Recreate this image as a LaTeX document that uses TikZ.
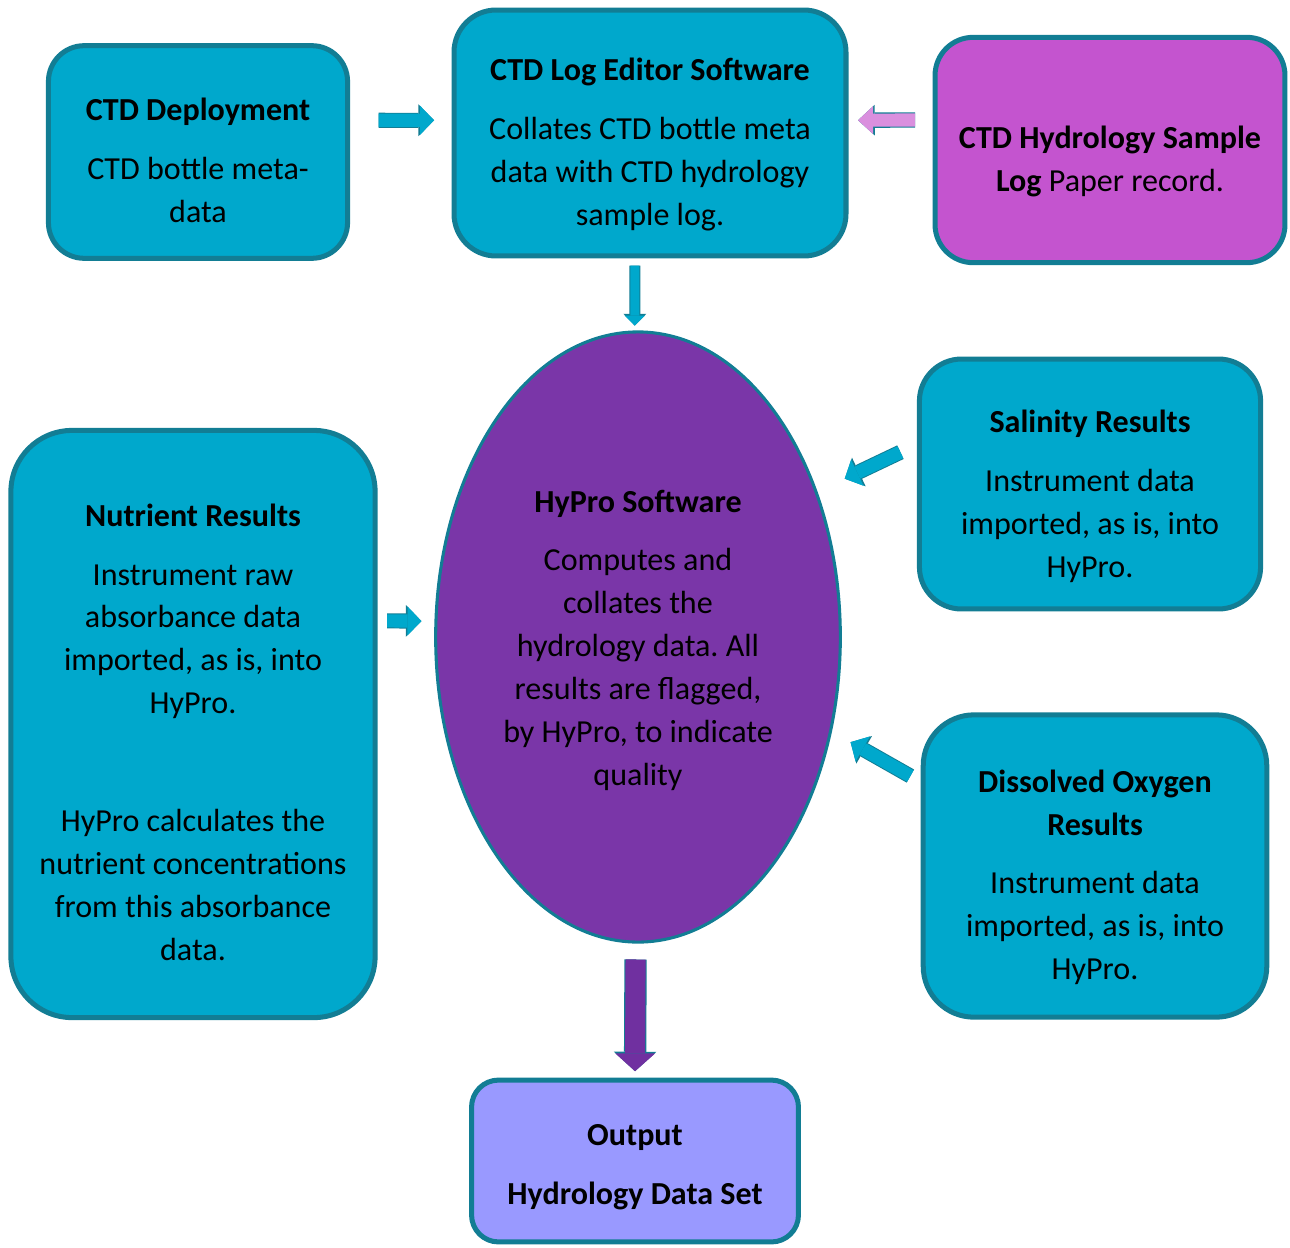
\documentclass[tikz,border=0pt]{standalone}
\usepackage{fontspec}
\setmainfont{Carlito}
\usepackage{tikz}
\usetikzlibrary{shapes,calc}
\usetikzlibrary{arrows.meta,positioning}
\definecolor{boxcyan}{RGB}{0,168,204}
\definecolor{edgeteal}{RGB}{18,125,148}
\definecolor{logmagenta}{RGB}{196,84,207}
\definecolor{hubpurple}{RGB}{122,54,168}
\definecolor{outlilac}{RGB}{153,153,255}
\definecolor{pinkarrow}{RGB}{218,143,222}
\definecolor{darkpurple}{RGB}{112,48,160}
\frenchspacing

\begin{document}
\begin{tikzpicture}[x=0.0126cm, y=-0.0126cm,
    font=\fontsize{11.5}{15.4}\selectfont,
    box/.style={rectangle, draw=edgeteal, line width=1.8pt, fill=boxcyan, inner sep=0pt, align=center},
    hub/.style={ellipse, draw=edgeteal, line width=1.1pt, fill=hubpurple, inner sep=0pt, align=center},
    flowsmall/.style={draw=boxcyan, line width=4.7pt, -{Triangle[length=5pt,width=10.4pt,line width=0pt]},
        preaction={draw=edgeteal, line width=5.4pt, -{Triangle[length=5.6pt,width=11.4pt,line width=0pt]}}},
    flowthin/.style={draw=boxcyan, line width=3.2pt, -{Triangle[length=3.6pt,width=7.2pt,line width=0pt]},
        preaction={draw=edgeteal, line width=3.9pt, -{Triangle[length=4.2pt,width=8.2pt,line width=0pt]}}},
    flowpink/.style={draw=pinkarrow, line width=4.7pt, -{Triangle[length=5.4pt,width=10pt,line width=0pt]},
        preaction={draw=edgeteal, line width=5.5pt, -{Triangle[length=6pt,width=11pt,line width=0pt]}}},
    flowbig/.style={draw=darkpurple, line width=7.2pt, -{Triangle[length=6.4pt,width=14.3pt,line width=0pt]},
        preaction={draw=edgeteal, line width=8pt, -{Triangle[length=7pt,width=15.3pt,line width=0pt]}}}]
    \def\drop#1{\rule{0pt}{#1}}
    \useasboundingbox (0,0) rectangle (1290,1247);
    %Boxes
    \node[box, minimum width=3.77cm, minimum height=2.68cm, rounded corners=0.45cm] (deploy) at (198,152)
        {\drop{14pt}\textbf{CTD Deployment}\\[5.7pt] CTD bottle meta-\\data};
    \node[box, minimum width=4.94cm, minimum height=3.10cm, rounded corners=0.53cm] (logedit) at (650,133)
        {\drop{16.2pt}\textbf{CTD Log Editor Software}\\[5.7pt] Collates CTD bottle meta\\data with CTD hydrology\\sample log.};
    \node[box, fill=logmagenta, minimum width=4.41cm, minimum height=2.84cm, rounded corners=0.48cm] (samplelog) at (1110,150)
        {\drop{16.2pt}\textbf{CTD Hydrology Sample}\\\textbf{Log} Paper record.};
    \node[box, minimum width=4.30cm, minimum height=3.15cm, rounded corners=0.53cm] (salinity) at (1090,484)
        {\drop{16.9pt}\textbf{Salinity Results}\\[5.7pt] Instrument data\\imported, as is, into\\HyPro.};
    \node[box, minimum width=4.59cm, minimum height=7.40cm, rounded corners=0.77cm] (nutrient) at (193,724)
        {\drop{14pt}\textbf{Nutrient Results}\\[5.7pt] Instrument raw\\absorbance data\\imported, as is, into\\HyPro.\\[26.9pt]
         HyPro calculates the\\nutrient concentrations\\from this absorbance\\data.};
    \node[box, minimum width=4.33cm, minimum height=3.81cm, rounded corners=0.64cm] (oxygen) at (1095,866)
        {\drop{16.2pt}\textbf{Dissolved Oxygen}\\\textbf{Results}\\[5.7pt] Instrument data\\imported, as is, into\\HyPro.};
    \node[box, fill=outlilac, minimum width=4.12cm, minimum height=2.04cm, rounded corners=0.34cm] (output) at (635,1161)
        {\drop{11.9pt}\textbf{Output}\\[5.7pt]\textbf{Hydrology Data Set}};
    %Hub
    \node[hub, minimum width=5.10cm, minimum height=7.69cm] (hypro) at (638,637)
        {\drop{10.4pt}\textbf{HyPro Software}\\[5.7pt] Computes and\\collates the\\hydrology data. All\\results are flagged,\\by HyPro, to indicate\\quality};
    %Arrows
    \draw[flowsmall, shorten <=0.36cm, shorten >=0.22cm] ([yshift=0.40cm]deploy.east) -- ([yshift=0.16cm]logedit.west);
    \draw[flowpink, shorten <=0.22cm, shorten >=0.12cm] ([yshift=0.38cm]samplelog.west) -- ([yshift=0.16cm]logedit.east);
    \draw[flowthin, shorten <=0.09cm, shorten >=0.06cm] ([xshift=-0.19cm]logedit.south) -- ([xshift=-0.04cm]hypro.north);
    \draw[flowsmall, shorten <=0.23cm, shorten >=0.38cm] ([yshift=0.50cm]salinity.west) -- (hypro.39);
    \draw[flowsmall, shorten <=0.12cm, shorten >=0.16cm] ([yshift=1.30cm]nutrient.east) -- ([yshift=0.20cm]hypro.west);
    \draw[flowsmall, shorten <=0.15cm, shorten >=0.27cm] ([yshift=1.06cm]oxygen.west) -- (hypro.-26);
    \draw[flowbig, shorten <=0.20cm, shorten >=0.08cm] ([xshift=-0.03cm]hypro.south) -- (output.north);
\end{tikzpicture}
\end{document}
